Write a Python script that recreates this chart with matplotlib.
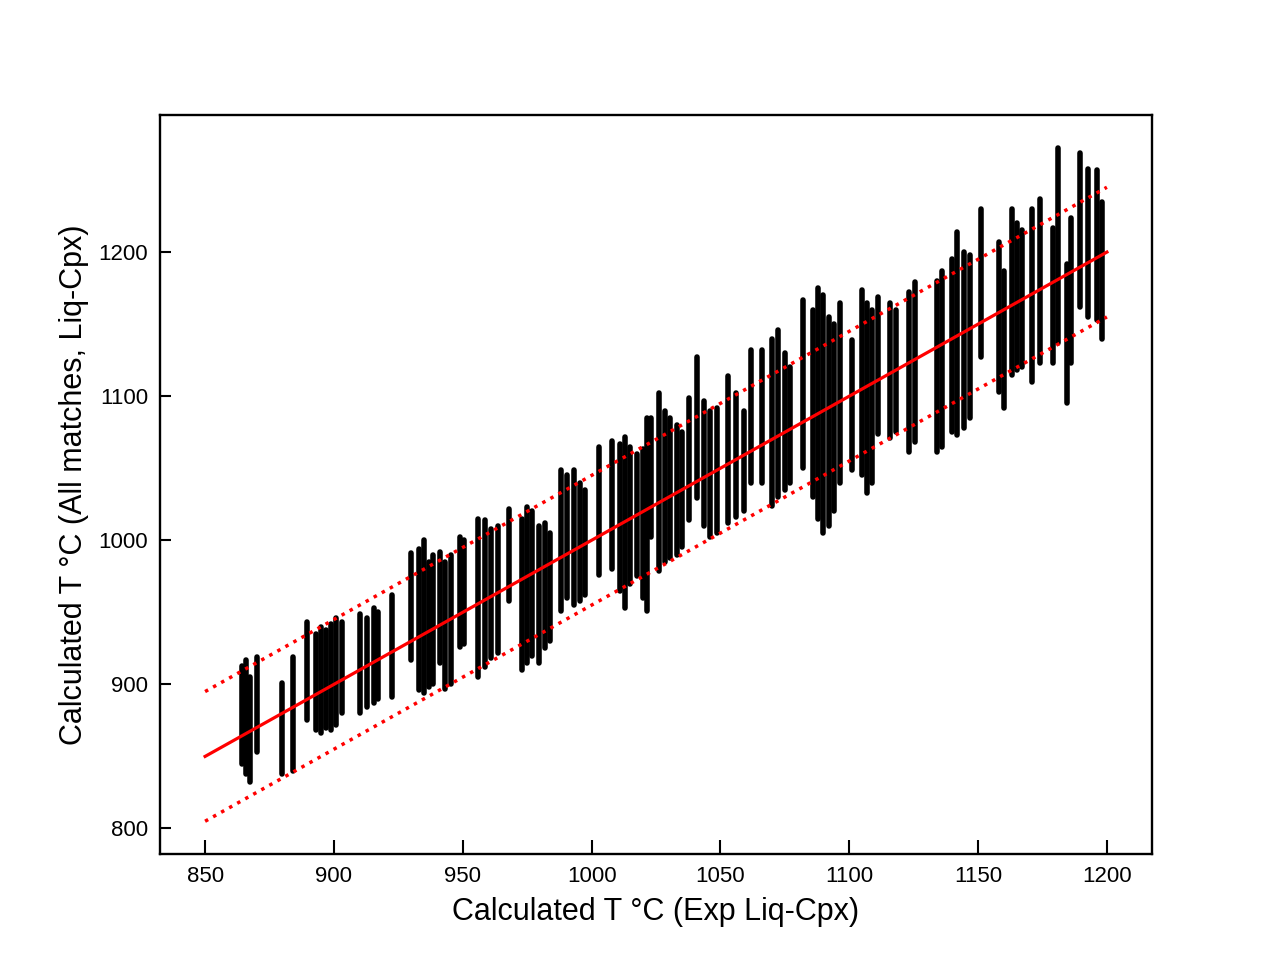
import numpy as np
import matplotlib
matplotlib.use('Agg')
import matplotlib.pyplot as plt

plt.rcParams['font.family'] = ['Liberation Sans', 'DejaVu Sans']

# each experiment shows as a vertical strip of matched temperatures:
# x position, lowest and highest calculated T read from the picture
strip_x = [864.5, 866, 867.5, 870, 880, 884, 889.6, 893, 895, 897, 899, 901, 903,
           910, 913, 915.5, 917, 922.6, 930, 933, 935, 937, 938.5, 941, 943, 945.5,
           949, 950.5, 956, 958.5, 961, 963.5, 968, 973, 975, 977, 979.5, 982, 984,
           988, 990.5, 993, 995.5, 997.5, 1003, 1008, 1011, 1013, 1015, 1017.5, 1020,
           1021.5, 1023, 1026, 1028.5, 1030.5, 1033, 1035, 1038, 1041, 1043.5, 1046,
           1048.5, 1053, 1056, 1059, 1062, 1066, 1070, 1072.5, 1075, 1077, 1082,
           1086, 1088, 1090, 1092, 1094, 1096.5, 1101, 1105, 1107, 1109, 1111, 1116,
           1118, 1123, 1125.5, 1134, 1136, 1140, 1142, 1144.5, 1147, 1151, 1158,
           1160, 1163, 1165, 1167, 1171, 1174, 1179, 1181, 1184.5, 1186, 1189.5,
           1192.6, 1196, 1198]
strip_lo = [845, 838, 832, 853, 838, 840, 875, 868, 866, 870, 868, 872, 880,
            880, 884, 887, 890, 891, 917, 896, 894, 898, 900, 915, 897, 900,
            926, 928, 905, 912, 918, 922, 958, 910, 915, 920, 915, 925, 930,
            951, 960, 955, 958, 962, 976, 980, 965, 953, 970, 975, 960,
            951, 1002, 979, 985, 988, 990, 995, 1014, 1029, 1010, 1002,
            1005, 1012, 1016, 1020, 1040, 1040, 1024, 1030, 1035, 1040, 1050,
            1030, 1015, 1005, 1010, 1020, 1040, 1049, 1045, 1033, 1040, 1074, 1071,
            1075, 1061, 1068, 1061, 1065, 1075, 1073, 1078, 1085, 1127, 1103,
            1092, 1115, 1118, 1120, 1110, 1123, 1123, 1137, 1095, 1123, 1162,
            1155, 1153, 1140]
strip_hi = [913, 917, 905, 919, 901, 919, 943, 935, 940, 938, 942, 946, 943,
            949, 946, 953, 950, 962, 991, 994, 1000, 985, 990, 992, 985, 990,
            1002, 1000, 1015, 1014, 1008, 1010, 1022, 1015, 1023, 1020, 1010, 1012, 1005,
            1049, 1045, 1049, 1040, 1035, 1065, 1069, 1067, 1072, 1065, 1060, 1063,
            1085, 1085, 1102, 1090, 1085, 1080, 1075, 1099, 1127, 1097, 1090,
            1092, 1114, 1102, 1090, 1132, 1132, 1140, 1146, 1130, 1120, 1167,
            1160, 1175, 1170, 1155, 1150, 1165, 1139, 1174, 1165, 1160, 1169, 1165,
            1160, 1172, 1179, 1180, 1187, 1195, 1214, 1200, 1198, 1230, 1207,
            1187, 1230, 1220, 1215, 1230, 1237, 1217, 1272, 1192, 1224, 1269,
            1258, 1257, 1235]

line_x = [850, 1200]
offset = 45

fig, ax = plt.subplots(figsize=(12.8, 9.6), dpi=100)

ax.vlines(strip_x, strip_lo, strip_hi, color='k', lw=4, capstyle='round', zorder=1)

ax.plot(line_x, line_x, '-r', lw=2.3, zorder=3)
ax.plot(line_x, [v + offset for v in line_x], ':r', lw=2.5, zorder=3)
ax.plot(line_x, [v - offset for v in line_x], ':r', lw=2.5, zorder=3)

ax.set_xlim(832.5, 1217.5)
ax.set_ylim(782, 1295)
ax.set_xticks(np.arange(850, 1201, 50))
ax.set_yticks(np.arange(800, 1201, 100))
ax.tick_params(direction='in', width=1.5, labelsize=16, pad=8.5)
ax.tick_params(axis='x', length=10)
ax.tick_params(axis='y', length=8)
for sp in ax.spines.values():
    sp.set_linewidth(1.7)

ax.set_xlabel('Calculated T °C (Exp Liq-Cpx)', fontsize=22, labelpad=7)
ax.set_ylabel('Calculated T °C (All matches, Liq-Cpx)', fontsize=22, labelpad=7)

plt.savefig('out.png')
plt.close()
